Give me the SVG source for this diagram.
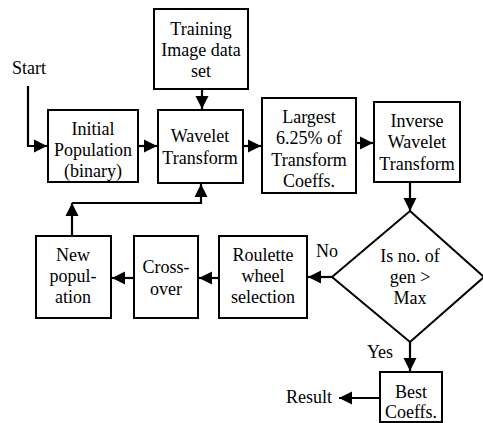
<svg xmlns="http://www.w3.org/2000/svg" width="483" height="423" viewBox="0 0 483 423">
<style>
.box{fill:#fff;stroke:#000;stroke-width:2}
text{font-family:'Liberation Serif',Tinos,'Times New Roman',Times,serif;font-size:18px;fill:#000;text-anchor:middle}
.c{fill:none;stroke:#000;stroke-width:2.2}
</style>
<defs>
<marker id="ah" markerUnits="userSpaceOnUse" markerWidth="14" markerHeight="14" refX="13" refY="7" orient="auto">
<path d="M0,0.5 L13,7 L0,13.5 z" fill="#000"/>
</marker>
</defs>
<rect width="483" height="423" fill="#fff"/>
<g id="connectors">
<polyline class="c" points="28,86 28,146 47,146" marker-end="url(#ah)"/>
<line class="c" x1="138" y1="146" x2="157" y2="146" marker-end="url(#ah)"/>
<line class="c" x1="202" y1="89" x2="202" y2="109" marker-end="url(#ah)"/>
<line class="c" x1="243" y1="146" x2="261" y2="146" marker-end="url(#ah)"/>
<line class="c" x1="356" y1="143" x2="373" y2="143" marker-end="url(#ah)"/>
<line class="c" x1="410" y1="182" x2="410" y2="211" marker-end="url(#ah)"/>
<line class="c" x1="332" y1="277" x2="308" y2="277" marker-end="url(#ah)"/>
<line class="c" x1="219" y1="278" x2="199" y2="278" marker-end="url(#ah)"/>
<line class="c" x1="134" y1="278" x2="112" y2="278" marker-end="url(#ah)"/>
<line class="c" x1="72" y1="236" x2="72" y2="203" marker-end="url(#ah)"/>
<polyline class="c" points="72,203 201,203 201,184" marker-end="url(#ah)"/>
<line class="c" x1="410" y1="342" x2="410" y2="371" marker-end="url(#ah)"/>
<line class="c" x1="380" y1="398" x2="339" y2="398" marker-end="url(#ah)"/>
</g>
<g id="start"><text x="29" y="74" font-family="Liberation Serif, serif">Start</text></g>
<g id="training">
<rect class="box" x="154" y="9" width="94" height="80"/>
<text x="201" y="35">Training</text>
<text x="201" y="56">Image data</text>
<text x="201" y="77">set</text>
</g>
<g id="initial">
<rect class="box" x="48" y="110" width="90" height="72"/>
<text x="93" y="135">Initial</text>
<text x="93" y="156">Population</text>
<text x="93" y="177">(binary)</text>
</g>
<g id="wavelet">
<rect class="box" x="158" y="110" width="85" height="73"/>
<text x="200" y="142">Wavelet</text>
<text x="200" y="164">Transform</text>
</g>
<g id="largest">
<rect class="box" x="262" y="98" width="94" height="95"/>
<text x="309" y="123">Largest</text>
<text x="309" y="144">6.25% of</text>
<text x="309" y="166">Transform</text>
<text x="309" y="187">Coeffs.</text>
</g>
<g id="inverse">
<rect class="box" x="374" y="102" width="86" height="80"/>
<text x="417" y="127">Inverse</text>
<text x="417" y="148">Wavelet</text>
<text x="417" y="170">Transform</text>
</g>
<g id="decision">
<polygon class="box" points="410,211 484,277 410,342 332,277"/>
<text x="410" y="262">Is no. of</text>
<text x="410" y="283">gen &gt;</text>
<text x="410" y="304">Max</text>
</g>
<g id="no"><text x="327" y="257">No</text></g>
<g id="roulette">
<rect class="box" x="219" y="236" width="88" height="82"/>
<text x="263" y="261">Roulette</text>
<text x="263" y="282">wheel</text>
<text x="263" y="303">selection</text>
</g>
<g id="crossover">
<rect class="box" x="134" y="236" width="64" height="82"/>
<text x="166" y="273">Cross-</text>
<text x="166" y="295">over</text>
</g>
<g id="newpop">
<rect class="box" x="36" y="236" width="75" height="82"/>
<text x="73" y="261">New</text>
<text x="73" y="282">popul-</text>
<text x="73" y="303">ation</text>
</g>
<g id="yes"><text x="380" y="358">Yes</text></g>
<g id="best">
<rect class="box" x="380" y="372" width="62" height="50"/>
<text x="411" y="398">Best</text>
<text x="411" y="418">Coeffs.</text>
</g>
<g id="result"><text x="309" y="403">Result</text></g>
</svg>
